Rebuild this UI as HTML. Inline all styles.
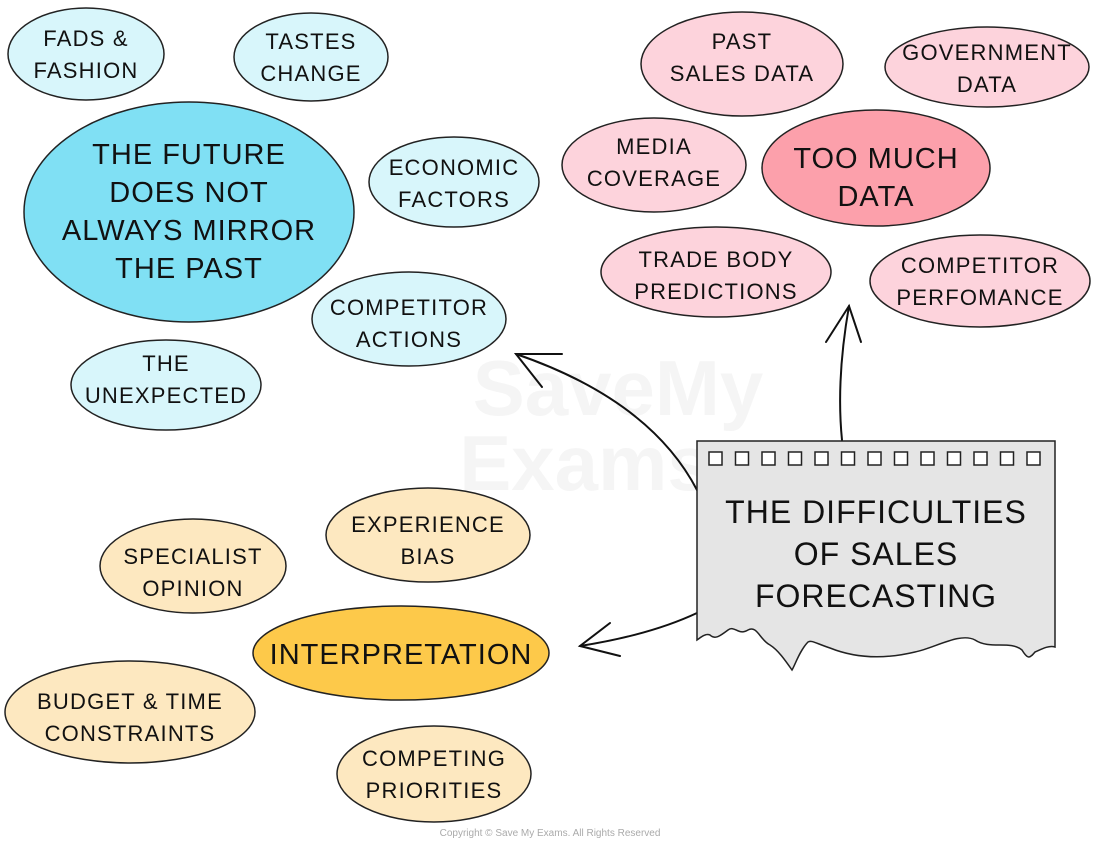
<!DOCTYPE html>
<html><head><meta charset="utf-8"><style>
html,body{margin:0;padding:0;background:#fff;}
svg{display:block;}
text{font-family:"Liberation Sans",sans-serif;fill:#111;text-anchor:middle;letter-spacing:1.2px;}
.s{font-size:22px;}
.b{font-size:29px;letter-spacing:1px;}
ellipse{stroke:#222;stroke-width:1.5;}
</style></head><body>
<svg width="1100" height="847" viewBox="0 0 1100 847">
<!-- watermark -->
<text x="618" y="415" style="font-size:78px;fill:#f5f5f5;font-weight:bold;letter-spacing:0">SaveMy</text>
<text x="585" y="490" style="font-size:78px;fill:#f5f5f5;font-weight:bold;letter-spacing:0">Exams</text>

<!-- cyan -->
<ellipse cx="86" cy="54" rx="78" ry="46" fill="#d8f6fb"/>
<text class="s" x="86" y="46">FADS &amp;</text><text class="s" x="86" y="78">FASHION</text>
<ellipse cx="311" cy="57" rx="77" ry="44" fill="#d8f6fb"/>
<text class="s" x="311" y="49">TASTES</text><text class="s" x="311" y="81">CHANGE</text>
<ellipse cx="189" cy="212" rx="165" ry="110" fill="#80e0f4"/>
<text class="b" x="189" y="164">THE FUTURE</text><text class="b" x="189" y="202">DOES NOT</text>
<text class="b" x="189" y="240">ALWAYS MIRROR</text><text class="b" x="189" y="278">THE PAST</text>
<ellipse cx="454" cy="182" rx="85" ry="45" fill="#d8f6fb"/>
<text class="s" x="454" y="175">ECONOMIC</text><text class="s" x="454" y="207">FACTORS</text>
<ellipse cx="409" cy="319" rx="97" ry="47" fill="#d8f6fb"/>
<text class="s" x="409" y="315">COMPETITOR</text><text class="s" x="409" y="347">ACTIONS</text>
<ellipse cx="166" cy="385" rx="95" ry="45" fill="#d8f6fb"/>
<text class="s" x="166" y="371">THE</text><text class="s" x="166" y="403">UNEXPECTED</text>

<!-- pink -->
<ellipse cx="742" cy="64" rx="101" ry="52" fill="#fdd3dc"/>
<text class="s" x="742" y="49">PAST</text><text class="s" x="742" y="81">SALES DATA</text>
<ellipse cx="987" cy="67" rx="102" ry="40" fill="#fdd3dc"/>
<text class="s" x="987" y="60">GOVERNMENT</text><text class="s" x="987" y="92">DATA</text>
<ellipse cx="654" cy="165" rx="92" ry="47" fill="#fdd3dc"/>
<text class="s" x="654" y="154">MEDIA</text><text class="s" x="654" y="186">COVERAGE</text>
<ellipse cx="876" cy="168" rx="114" ry="58" fill="#fca0ab"/>
<text class="b" x="876" y="168">TOO MUCH</text><text class="b" x="876" y="206">DATA</text>
<ellipse cx="716" cy="272" rx="115" ry="45" fill="#fdd3dc"/>
<text class="s" x="716" y="267">TRADE BODY</text><text class="s" x="716" y="299">PREDICTIONS</text>
<ellipse cx="980" cy="281" rx="110" ry="46" fill="#fdd3dc"/>
<text class="s" x="980" y="273">COMPETITOR</text><text class="s" x="980" y="305">PERFOMANCE</text>

<!-- yellow -->
<ellipse cx="428" cy="535" rx="102" ry="47" fill="#fde8c0"/>
<text class="s" x="428" y="532">EXPERIENCE</text><text class="s" x="428" y="564">BIAS</text>
<ellipse cx="193" cy="566" rx="93" ry="47" fill="#fde8c0"/>
<text class="s" x="193" y="564">SPECIALIST</text><text class="s" x="193" y="596">OPINION</text>
<ellipse cx="401" cy="653" rx="148" ry="47" fill="#fdc94a"/>
<text class="b" x="401" y="664">INTERPRETATION</text>
<ellipse cx="130" cy="712" rx="125" ry="51" fill="#fde8c0"/>
<text class="s" x="130" y="709">BUDGET &amp; TIME</text><text class="s" x="130" y="741">CONSTRAINTS</text>
<ellipse cx="434" cy="774" rx="97" ry="48" fill="#fde8c0"/>
<text class="s" x="434" y="766">COMPETING</text><text class="s" x="434" y="798">PRIORITIES</text>

<!-- arrows -->
<g fill="none" stroke="#111" stroke-width="2" stroke-linecap="round">
<path d="M842 440 Q836 380 849 306"/><path d="M826 342 L849 306 L861 342"/>
<path d="M697 490 Q650 400 516 354"/><path d="M542 387 L516 354 L562 354"/>
<path d="M697 613 Q650 635 580 646"/><path d="M610 623 L580 646 L620 656"/>
</g>

<!-- box -->
<path d="M697 441 L1055 441 L1055 647 C1048 645 1040 650 1035 652 C1030 658 1028 660 1022 650 C1010 640 990 650 975 640 C960 632 935 648 915 652 C890 658 860 660 830 648 C815 643 812 640 808 642 C800 650 795 665 792 670 C785 660 778 650 770 645 C760 640 757 625 748 630 C738 636 735 625 728 630 C720 636 715 640 710 635 C705 633 700 638 697 640 Z" fill="#e5e5e5" stroke="#222" stroke-width="1.5"/>
<g fill="#fff" stroke="#222" stroke-width="1.5">
<rect x="709" y="452" width="13" height="13"/><rect x="735.5" y="452" width="13" height="13"/><rect x="762" y="452" width="13" height="13"/><rect x="788.5" y="452" width="13" height="13"/><rect x="815" y="452" width="13" height="13"/><rect x="841.5" y="452" width="13" height="13"/><rect x="868" y="452" width="13" height="13"/><rect x="894.5" y="452" width="13" height="13"/><rect x="921" y="452" width="13" height="13"/><rect x="947.5" y="452" width="13" height="13"/><rect x="974" y="452" width="13" height="13"/><rect x="1000.5" y="452" width="13" height="13"/><rect x="1027" y="452" width="13" height="13"/>
</g>
<text x="876" y="523" style="font-size:32px;letter-spacing:1px">THE DIFFICULTIES</text>
<text x="876" y="565" style="font-size:32px;letter-spacing:1px">OF SALES</text>
<text x="876" y="607" style="font-size:32px;letter-spacing:1px">FORECASTING</text>

<text x="550" y="836" style="font-size:10px;fill:#aaa;letter-spacing:0">Copyright © Save My Exams. All Rights Reserved</text>
</svg>
</body></html>
